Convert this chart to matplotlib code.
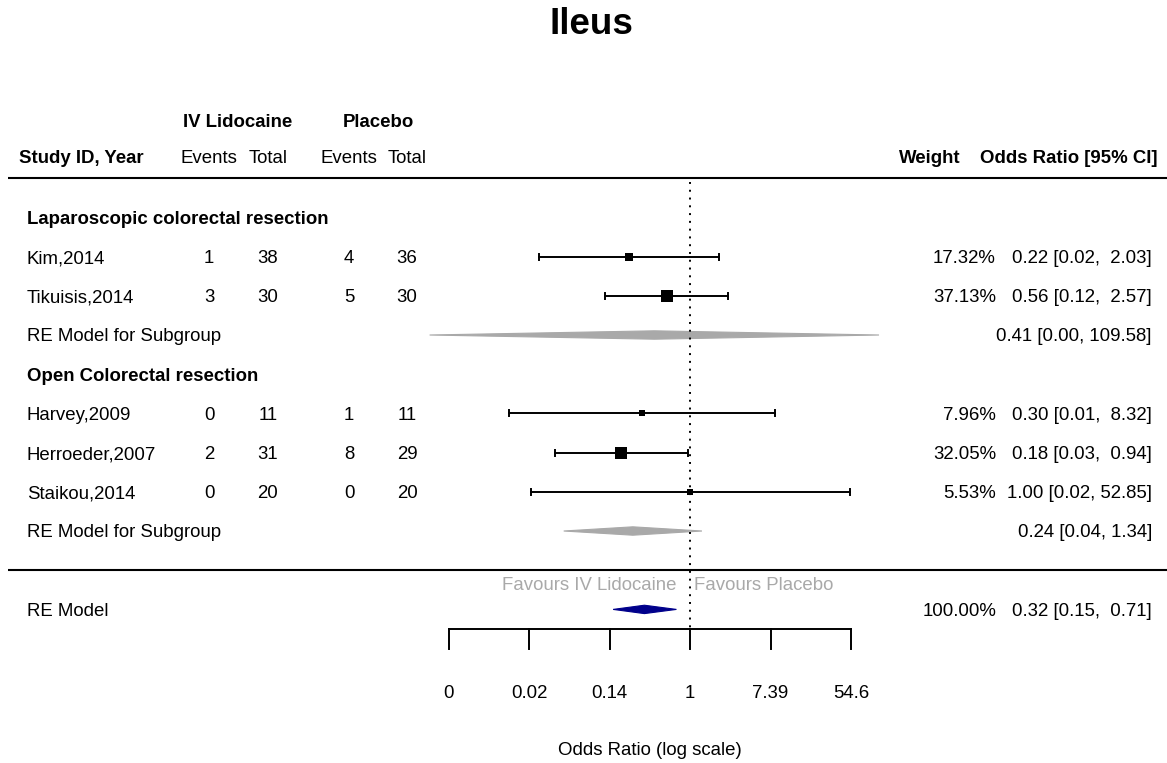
import numpy as np
import matplotlib
matplotlib.use("Agg")
import matplotlib.pyplot as plt
from matplotlib.patches import Polygon

plt.rcParams["font.family"] = ["Liberation Sans", "DejaVu Sans"]

# studies, top to bottom
studies = ["Kim,2014", "Tikuisis,2014", "Harvey,2009", "Herroeder,2007", "Staikou,2014"]
lido_events = [1, 3, 0, 2, 0]
lido_total = [38, 30, 11, 31, 20]
plac_events = [4, 5, 1, 8, 0]
plac_total = [36, 30, 11, 29, 20]
odds = [0.216, 0.556, 0.304, 0.181, 1.00]
ci_low = [0.0230, 0.120, 0.0111, 0.0348, 0.0189]
ci_high = [2.03, 2.57, 8.32, 0.94, 52.85]
weights = [17.32, 37.13, 7.96, 32.05, 5.53]

# subgroup summaries
sub_names = ["Laparoscopic colorectal resection", "Open Colorectal resection"]
sub_or = [0.41, 0.24]
sub_low = [0.00153, 0.043]
sub_high = [109.58, 1.34]

# overall random-effects model
re_or = 0.32
re_low = 0.147
re_high = 0.71
re_weight = 100.00

tick_at = [-6, -4, -2, 0, 2, 4]
tick_labels = ["0", "0.02", "0.14", "1", "7.39", "54.6"]

# layout (rows like metafor, x in log-odds units)
study_rows = [8, 7, 4, 3, 2]
sub_rows = [6, 1]
head_rows = [9, 5]
px = 40.2      # pixels per log unit
x0 = 690.2     # pixel of log(OR)=0
def X(p):
    return (p - x0) / px

fs = 13.4
grey = "#A9A9A9"

fig = plt.figure(figsize=(11.67, 7.63), dpi=100)
ax = fig.add_axes([0, 0, 1, 1])
ax.set_xlim(X(0), X(1167))
ax.set_ylim(-4.918, 14.546)
ax.axis("off")

def txt(x, y, s, **kw):
    kw.setdefault("fontsize", fs)
    kw.setdefault("va", "center")
    ax.text(x, y - 0.05, s, **kw)

# header
fig.text(591 / 1167, 1 - 24 / 763, "Ileus", fontsize=26.5, fontweight="bold",
         ha="center", va="center")
txt(X(237.5), 11.46, "IV Lidocaine", ha="center", fontweight="bold")
txt(X(378), 11.46, "Placebo", ha="center", fontweight="bold")
txt(X(19), 10.55, "Study ID, Year", ha="left", fontweight="bold")
col_x = [X(209), X(268), X(349), X(407)]
for cx, h in zip(col_x, ["Events", "Total", "Events", "Total"]):
    txt(cx, 10.55, h, ha="center")
txt(X(961), 10.55, "Weight", ha="right", fontweight="bold")
txt(X(1158), 10.55, "Odds Ratio [95% CI]", ha="right", fontweight="bold")

ax.plot([X(8), X(1167)], [10, 10], color="black", lw=1.5, solid_capstyle="butt")
ax.plot([X(8), X(1167)], [0, 0], color="black", lw=1.5, solid_capstyle="butt")

# reference line
ax.plot([0, 0], [9.9, -1.5], color="black", lw=1.4, linestyle=(0, (1, 3)))

# subgroup headings
for r, name in zip(head_rows, sub_names):
    txt(X(27), r, name, ha="left", fontweight="bold")

# studies
lor = np.log(odds)
llo = np.log(ci_low)
lhi = np.log(ci_high)
w_up = max(len(f"{v:.2f}") for v in ci_high + [re_high])
cap = 0.077
for i, r in enumerate(study_rows):
    ax.plot([llo[i], lhi[i]], [r, r], color="black", lw=1.4)
    ax.plot([llo[i], llo[i]], [r - cap, r + cap], color="black", lw=1.4)
    ax.plot([lhi[i], lhi[i]], [r - cap, r + cap], color="black", lw=1.4)
    side = 2.13 * np.sqrt(weights[i]) * 0.72
    ax.plot(lor[i], r, marker="s", markersize=side, color="black", mec="black", mew=0)
    txt(X(27), r, studies[i], ha="left")
    for cx, v in zip(col_x, [lido_events[i], lido_total[i], plac_events[i], plac_total[i]]):
        txt(cx, r, str(v), ha="center")
    txt(X(996), r, f"{weights[i]:.2f}%", ha="right")
    txt(X(1152), r, f"{odds[i]:.2f} [{ci_low[i]:.2f}, {ci_high[i]:>{w_up}.2f}]", ha="right")

def diamond(est, lo, hi, y, color):
    h = 0.107
    pts = [[np.log(lo), y], [np.log(est), y + h], [np.log(hi), y], [np.log(est), y - h]]
    ax.add_patch(Polygon(pts, closed=True, facecolor=color, edgecolor=color, lw=0.8))

for r, e, lo, hi in zip(sub_rows, sub_or, sub_low, sub_high):
    diamond(e, lo, hi, r, grey)
    txt(X(27), r, "RE Model for Subgroup", ha="left")
    txt(X(1152), r, f"{e:.2f} [{lo:.2f}, {hi:.2f}]", ha="right")

diamond(re_or, re_low, re_high, -1, "#00008B")
txt(X(27), -1, "RE Model", ha="left")
txt(X(996), -1, f"{re_weight:.2f}%", ha="right")
txt(X(1152), -1, f"{re_or:.2f} [{re_low:.2f}, {re_high:>{w_up}.2f}]", ha="right")

txt(X(677), -0.34, "Favours IV Lidocaine", ha="right", color=grey)
txt(X(694), -0.34, "Favours Placebo", ha="left", color=grey)

# x axis
ax.plot([tick_at[0], tick_at[-1]], [-1.5, -1.5], color="black", lw=1.4, solid_capstyle="projecting")
for t, lab in zip(tick_at, tick_labels):
    ax.plot([t, t], [-1.5, -2.0], color="black", lw=1.4)
    txt(t, -3.1, lab, ha="center")
txt(np.mean([tick_at[0], tick_at[-1]]), -4.56, "Odds Ratio (log scale)", ha="center")

fig.savefig("out.png", dpi=100)
